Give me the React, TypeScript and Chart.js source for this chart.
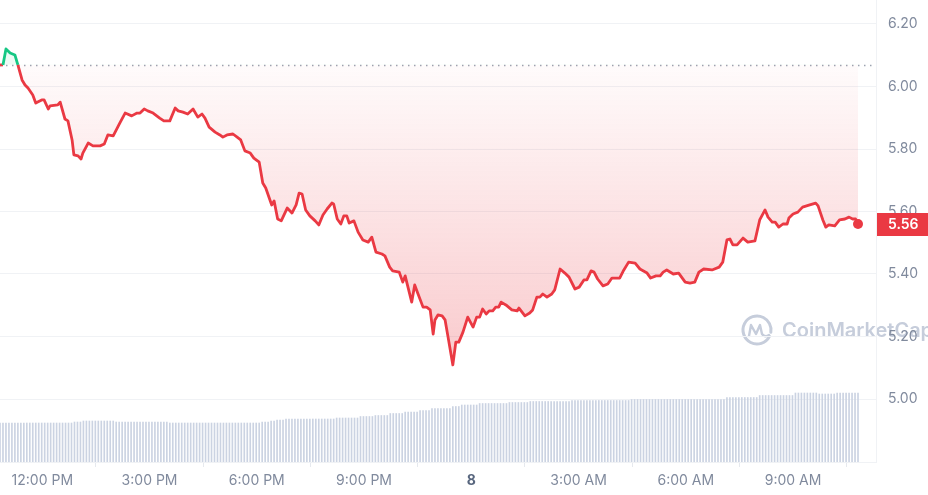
import React, { useEffect, useRef } from "react";
import { Chart, registerables } from "chart.js";

Chart.register(...registerables);

// ---- Data ----
const OPEN_PRICE = 6.07; // reference (opening) price, dotted line
const LAST_PRICE_LABEL = "5.56";

// minutes since the start of the 24h window (10:49 AM)
const PRICE_MINUTES = [
  0, 5, 10, 17, 25, 30, 37, 42, 47, 55,
  60, 70, 74, 81, 84, 97, 101, 109, 114, 121,
  124, 131, 136, 139, 148, 156, 168, 175, 181, 190,
  201, 210, 221, 230, 235, 242, 248, 257, 268, 275,
  285, 294, 299, 307, 315, 324, 332, 339, 344, 351,
  361, 369, 374, 381, 391, 398, 404, 411, 420, 426,
  435, 441, 446, 456, 460, 466, 472, 482, 490, 497,
  502, 507, 513, 520, 529, 535, 542, 549, 557, 560,
  566, 572, 577, 582, 586, 594, 601, 609, 618, 624,
  631, 641, 646, 654, 659, 670, 676, 680, 691, 696,
  701, 710, 716, 722, 727, 730, 735, 742, 747, 752,
  760, 765, 770, 777, 785, 794, 800, 805, 810, 816,
  821, 827, 832, 837, 841, 849, 859, 868, 871, 881,
  889, 894, 901, 906, 911, 918, 926, 931, 940, 948,
  955, 965, 972, 980, 985, 992, 997, 1003, 1012, 1020,
  1027, 1040, 1047, 1055, 1066, 1074, 1086, 1092, 1101, 1108,
  1113, 1119, 1130, 1139, 1150, 1158, 1166, 1173, 1181, 1195,
  1207, 1213, 1220, 1225, 1230, 1237, 1247, 1255, 1267, 1275,
  1284, 1289, 1296, 1301, 1307, 1314, 1321, 1324, 1331, 1339,
  1347, 1359, 1369, 1373, 1381, 1386, 1391, 1401, 1409, 1418,
  1425, 1431, 1436, 1440,
];

const PRICES = [
  6.069, 6.069, 6.12, 6.107, 6.101, 6.069, 6.021, 6.005, 5.995, 5.973,
  5.947, 5.957, 5.957, 5.928, 5.938, 5.941, 5.95, 5.896, 5.89, 5.829,
  5.781, 5.778, 5.768, 5.787, 5.819, 5.81, 5.81, 5.816, 5.845, 5.842,
  5.883, 5.915, 5.906, 5.915, 5.915, 5.928, 5.922, 5.915, 5.899, 5.89,
  5.89, 5.931, 5.922, 5.918, 5.912, 5.928, 5.902, 5.912, 5.899, 5.87,
  5.854, 5.845, 5.838, 5.845, 5.848, 5.838, 5.829, 5.794, 5.787, 5.771,
  5.758, 5.691, 5.675, 5.621, 5.634, 5.576, 5.57, 5.611, 5.595, 5.621,
  5.659, 5.656, 5.605, 5.586, 5.57, 5.557, 5.589, 5.608, 5.627, 5.624,
  5.576, 5.56, 5.586, 5.586, 5.563, 5.57, 5.534, 5.509, 5.502, 5.518,
  5.47, 5.464, 5.458, 5.422, 5.41, 5.406, 5.374, 5.394, 5.31, 5.365,
  5.339, 5.294, 5.294, 5.285, 5.208, 5.253, 5.269, 5.266, 5.253, 5.198,
  5.109, 5.182, 5.182, 5.214, 5.262, 5.23, 5.262, 5.262, 5.288, 5.272,
  5.282, 5.282, 5.294, 5.294, 5.31, 5.301, 5.285, 5.282, 5.291, 5.266,
  5.275, 5.285, 5.326, 5.326, 5.336, 5.326, 5.336, 5.349, 5.416, 5.403,
  5.39, 5.352, 5.358, 5.381, 5.381, 5.41, 5.406, 5.384, 5.362, 5.368,
  5.387, 5.387, 5.413, 5.438, 5.435, 5.416, 5.403, 5.387, 5.394, 5.394,
  5.406, 5.413, 5.4, 5.403, 5.374, 5.371, 5.374, 5.406, 5.416, 5.413,
  5.422, 5.438, 5.509, 5.512, 5.493, 5.493, 5.515, 5.502, 5.506, 5.573,
  5.605, 5.582, 5.566, 5.566, 5.55, 5.56, 5.56, 5.579, 5.592, 5.598,
  5.614, 5.621, 5.627, 5.618, 5.573, 5.55, 5.557, 5.554, 5.573, 5.576,
  5.582, 5.576, 5.576, 5.56,
];

// volume bars, one every 5 minutes (relative units, millions)
const VOLUME_INTERVAL_MIN = 5;
const VOLUME = [
  39, 39, 39, 39, 39, 39, 39, 39, 39, 39, 39, 39, 39, 39, 39, 39, 39, 39, 39, 39, 39, 39, 39, 39,
  39, 40, 40, 40, 41, 41, 41, 41, 41, 41, 41, 41, 41, 41, 41, 40, 40, 40, 40, 40, 40, 40, 40, 40,
  40, 40, 40, 40, 40, 40, 40, 40, 40, 39, 39, 39, 39, 39, 39, 39, 39, 39, 39, 39, 39, 39, 39, 39,
  39, 39, 39, 39, 39, 39, 39, 39, 39, 39, 39, 39, 39, 39, 39, 39, 40, 40, 40, 41, 41, 42, 42, 42,
  43, 43, 43, 43, 43, 43, 43, 43, 43, 43, 43, 43, 43, 43, 43, 43, 43, 44, 44, 44, 44, 44, 44, 44,
  44, 45.5, 45.5, 45.5, 45.5, 45.5, 46.5, 46.5, 46.5, 46.5, 46.5, 48.5, 48.5, 48.5, 48.5, 48.5, 50, 50, 50, 50, 50, 51.5, 51.5, 51.5,
  51.5, 53.5, 53.5, 53.5, 53.5, 53.5, 53.5, 53.5, 55.5, 55.5, 55.5, 57, 57, 57, 57, 57, 57, 58.5, 58.5, 58.5, 58.5, 58.5, 58.5, 58.5,
  58.5, 58.5, 58.5, 59.5, 59.5, 59.5, 59.5, 59.5, 59.5, 59.5, 60.5, 60.5, 60.5, 60.5, 60.5, 60.5, 60.5, 60.5, 60.5, 60.5, 60.5, 60.5, 60.5, 60.5,
  61.5, 61.5, 61.5, 61.5, 61.5, 61.5, 61.5, 61.5, 61.5, 61.5, 61.5, 61.5, 61.5, 61.5, 61.5, 61.5, 61.5, 61.5, 61.5, 61.5, 62.5, 62.5, 62.5, 62.5,
  62.5, 62.5, 62.5, 62.5, 62.5, 62.5, 62.5, 62.5, 62.5, 62.5, 62.5, 62.5, 62.5, 62.5, 62.5, 62.5, 62.5, 62.5, 62.5, 62.5, 62.5, 62.5, 62.5, 62.5,
  62.5, 62.5, 62.5, 62.5, 64.5, 64.5, 64.5, 64.5, 64.5, 64.5, 64.5, 64.5, 64.5, 64.5, 64.5, 66.5, 66.5, 66.5, 66.5, 66.5, 66.5, 66.5, 66.5, 66.5,
  66.5, 66.5, 66.5, 69, 69, 69, 69, 69, 69, 69, 69, 68, 68, 68, 68, 68, 68, 69, 69, 69, 69, 69, 69, 69,
  69,
];

const X_TICK_MINUTES = [71, 251, 431, 611, 791, 971, 1151, 1331];
const X_TICK_LABELS = ["12:00 PM", "3:00 PM", "6:00 PM", "9:00 PM", "8", "3:00 AM", "6:00 AM", "9:00 AM"];
const Y_TICKS = [5.0, 5.2, 5.4, 5.6, 5.8, 6.0, 6.2];

// ---- Styles ----
const RED = "#ea3943";
const GREEN = "#16c784";
const GREY = "#808a9d";
const GRID = "#f0f2f5";

const zeroPadding = (s: any) => {
  s.paddingTop = 0;
  s.paddingBottom = 0;
  s.paddingLeft = 0;
  s.paddingRight = 0;
};

export default function App() {
  const ref = useRef<HTMLCanvasElement>(null);

  useEffect(() => {
    document.body.style.margin = "0";
    const canvas = ref.current!;
    const pricePoints = PRICE_MINUTES.map((m, i) => ({ x: m, y: PRICES[i] }));
    const volumePoints = VOLUME.map((v, i) => ({ x: i * VOLUME_INTERVAL_MIN, y: v }));
    const lastIndex = pricePoints.length - 1;

    const overlayPlugin = {
      id: "overlay",
      beforeDraw(chart: any) {
        // watermark
        const { ctx } = chart;
        ctx.save();
        const col = "#c6cddb";
        ctx.strokeStyle = col;
        ctx.fillStyle = col;
        ctx.lineWidth = 3;
        ctx.lineCap = "round";
        ctx.lineJoin = "round";
        const cx = 757, cy = 330, r = 14;
        ctx.beginPath();
        ctx.arc(cx, cy, r, 0.15 * Math.PI, 2.05 * Math.PI);
        ctx.stroke();
        ctx.lineWidth = 2.4;
        ctx.beginPath();
        ctx.moveTo(cx - 8, cy + 6);
        ctx.lineTo(cx - 6, cy - 5);
        ctx.lineTo(cx - 1, cy + 4);
        ctx.lineTo(cx + 3, cy - 5);
        ctx.lineTo(cx + 5, cy + 4);
        ctx.quadraticCurveTo(cx + 8, cy + 8, cx + 12, cy + 5);
        ctx.stroke();
        ctx.font = "600 20px Inter";
        ctx.textAlign = "left";
        ctx.textBaseline = "middle";
        ctx.fillText("CoinMarketCap", 782, 331);
        ctx.restore();
      },
      beforeDatasetsDraw(chart: any) {
        const { ctx, chartArea } = chart;
        const y = chart.scales.y.getPixelForValue(OPEN_PRICE);
        ctx.save();
        ctx.strokeStyle = "#9ca3b0";
        ctx.lineWidth = 1.5;
        ctx.setLineDash([1.5, 4.5]);
        ctx.beginPath();
        ctx.moveTo(chartArea.left, Math.round(y) + 0.5);
        ctx.lineTo(chartArea.right, Math.round(y) + 0.5);
        ctx.stroke();
        ctx.restore();
      },
      afterDraw(chart: any) {
        const { ctx, chartArea, width } = chart;
        const y = chart.scales.y.getPixelForValue(PRICES[lastIndex]);
        ctx.save();
        ctx.fillStyle = RED;
        const h = 23;
        ctx.fillRect(chartArea.right + 1, Math.round(y - h / 2), width - chartArea.right - 1, h);
        ctx.fillStyle = "#ffffff";
        ctx.font = "600 14px Inter";
        ctx.textAlign = "left";
        ctx.textBaseline = "middle";
        ctx.fillText(LAST_PRICE_LABEL, chartArea.right + 12, y + 0.5);
        ctx.restore();
      },
    };

    const chart = new Chart(canvas, {
      type: "line",
      data: {
        datasets: [
          {
            type: "line",
            data: pricePoints,
            yAxisID: "y",
            xAxisID: "x",
            order: 0,
            borderColor: RED,
            borderWidth: 2.8,
            borderJoinStyle: "round",
            tension: 0,
            pointRadius: (c: any) => (c.dataIndex === lastIndex ? 5 : 0),
            pointBackgroundColor: RED,
            pointBorderWidth: 0,
            pointHoverRadius: 0,
            fill: { target: { value: OPEN_PRICE }, above: "rgba(22,199,132,0.08)" },
            backgroundColor: (c: any) => {
              const ch = c.chart;
              if (!ch.chartArea || !ch.scales.y) return "rgba(234,57,67,0.1)";
              const y0 = ch.scales.y.getPixelForValue(OPEN_PRICE);
              const y1 = ch.scales.y.getPixelForValue(5.1);
              const g = ch.ctx.createLinearGradient(0, y0, 0, y1);
              g.addColorStop(0, "rgba(234,57,67,0.02)");
              g.addColorStop(1, "rgba(234,57,67,0.27)");
              return g;
            },
            segment: {
              borderColor: (c: any) =>
                c.p0.parsed.y > OPEN_PRICE || c.p1.parsed.y > OPEN_PRICE ? GREEN : RED,
            },
          } as any,
          {
            type: "bar",
            data: volumePoints,
            yAxisID: "yv",
            xAxisID: "x",
            order: 1,
            backgroundColor: "#cbd3e2",
            borderWidth: 0,
            barThickness: 1,
          } as any,
        ],
      },
      options: {
        responsive: false,
        animation: false,
        devicePixelRatio: 1,
        events: [],
        layout: { padding: 0, autoPadding: false },
        plugins: { legend: { display: false }, tooltip: { enabled: false } },
        scales: {
          x: {
            type: "linear",
            min: 0,
            max: 1470.2,
            offset: false,
            afterBuildTicks: (s: any) => {
              s.ticks = X_TICK_MINUTES.map((v) => ({ value: v }));
            },
            afterFit: (s: any) => {
              s.height = 33;
              zeroPadding(s);
            },
            ticks: {
              autoSkip: false,
              maxRotation: 0,
              padding: 5,
              color: (c: any) => (c.index === 4 ? "#58667e" : GREY),
              font: (c: any) => ({ family: "Inter", size: 14, weight: c.index === 4 ? "700" : "400" }),
              callback: (_v: any, i: number) => X_TICK_LABELS[i],
            },
            grid: { drawOnChartArea: false, drawTicks: true, tickLength: 5, color: "#e6e9ee" },
            border: { display: true, color: GRID },
          },
          y: {
            position: "right",
            min: 4.7984,
            max: 6.2768,
            afterBuildTicks: (s: any) => {
              s.ticks = Y_TICKS.map((v) => ({ value: v }));
            },
            afterFit: (s: any) => {
              s.width = 52;
              zeroPadding(s);
            },
            ticks: {
              padding: 12,
              color: GREY,
              font: { family: "Inter", size: 14 },
              callback: (v: any) => Number(v).toFixed(2),
            },
            grid: { color: GRID, drawTicks: false },
            border: { display: true, color: GRID },
          },
          yv: { display: false, min: 0, max: 462, afterFit: zeroPadding },
        },
      } as any,
      plugins: [overlayPlugin],
    });
    return () => chart.destroy();
  }, []);

  return (
    <div style={{ position: "absolute", left: 0, top: 0, width: 928, height: 495 }}>
      <canvas ref={ref} width={928} height={495} style={{ display: "block" }} />
    </div>
  );
}
